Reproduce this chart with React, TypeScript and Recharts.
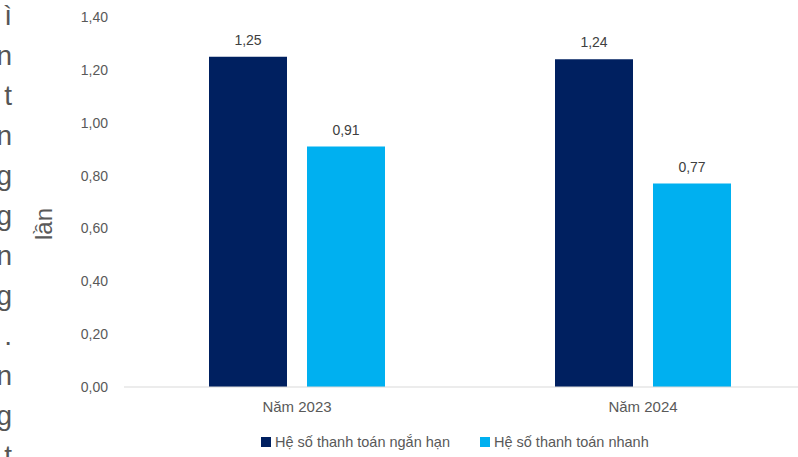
import { BarChart, Bar, XAxis, YAxis, Legend, LabelList } from 'recharts';

const categories = ['Năm 2023', 'Năm 2024'];
const shortTerm = [1.25, 1.24];
const quick = [0.91, 0.77];
const yTicks = [0, 0.2, 0.4, 0.6, 0.8, 1.0, 1.2, 1.4];
const sideLetters = ['ì', 'n', 't', 'n', 'g', 'g', 'n', 'g', '.', 'n', 'g', 't'];

const seriesNames = ['Hệ số thanh toán ngắn hạn', 'Hệ số thanh toán nhanh'];
const DARK = '#002060';
const LIGHT = '#00B0F0';
const FONT = '"Liberation Sans", Arial, sans-serif';

const data = categories.map((name, i) => ({
  name,
  shortTerm: shortTerm[i],
  quick: quick[i],
}));

const fmt = (v: number) => v.toFixed(2).replace('.', ',');

function LegendContent() {
  const items = [
    { label: seriesNames[0], color: DARK },
    { label: seriesNames[1], color: LIGHT },
  ];
  return (
    <div style={{ display: 'flex', alignItems: 'center', fontFamily: FONT, fontSize: 14.5, color: '#595959' }}>
      {items.map((it, i) => (
        <div key={it.label} style={{ display: 'flex', alignItems: 'center', marginRight: i === 0 ? 30 : 0 }}>
          <span style={{ width: 10, height: 10, background: it.color, display: 'inline-block', marginRight: 4 }} />
          <span>{it.label}</span>
        </div>
      ))}
    </div>
  );
}

function YLabel() {
  return (
    <text
      x={43}
      y={224}
      transform="rotate(-90, 43, 224)"
      textAnchor="middle"
      dominantBaseline="central"
      fontSize={24}
      fill="#595959"
      fontFamily={FONT}
    >
      lần
    </text>
  );
}

export default function App() {
  return (
    <div
      style={{
        position: 'fixed',
        left: 0,
        top: 0,
        width: 798,
        height: 457,
        overflow: 'hidden',
        background: '#fff',
      }}
    >
      <div
        style={{
          position: 'absolute',
          left: -30,
          top: -4,
          width: 42,
          textAlign: 'right',
          fontFamily: FONT,
          fontSize: 28,
          lineHeight: '40px',
          color: '#555',
        }}
      >
        {sideLetters.map((c, i) => (
          <div key={i}>{c}</div>
        ))}
      </div>
      <BarChart
        width={830}
        height={457}
        data={data}
        margin={{ top: 17, right: 14, left: 0, bottom: 40 }}
        barGap={20}
        barCategoryGap={85}
        style={{ fontFamily: FONT }}
      >
        <XAxis
          dataKey="name"
          axisLine={{ stroke: '#D9D9D9' }}
          tickLine={false}
          tickMargin={8}
          tick={{ fill: '#595959', fontSize: 15 }}
        />
        <YAxis
          width={124}
          domain={[0, 1.4]}
          ticks={yTicks}
          tickFormatter={fmt}
          axisLine={false}
          tickLine={false}
          tickMargin={10}
          tick={{ fill: '#595959', fontSize: 14 }}
          label={<YLabel />}
        />
        <Legend
          layout="horizontal"
          verticalAlign="middle"
          align="center"
          content={<LegendContent />}
          wrapperStyle={{ left: 261, top: 434, width: 'auto' }}
        />
        <Bar dataKey="shortTerm" name={seriesNames[0]} fill={DARK} isAnimationActive={false}>
          <LabelList dataKey="shortTerm" position="top" offset={12} formatter={fmt} fill="#404040" fontSize={14} />
        </Bar>
        <Bar dataKey="quick" name={seriesNames[1]} fill={LIGHT} isAnimationActive={false}>
          <LabelList dataKey="quick" position="top" offset={12} formatter={fmt} fill="#404040" fontSize={14} />
        </Bar>
      </BarChart>
    </div>
  );
}
